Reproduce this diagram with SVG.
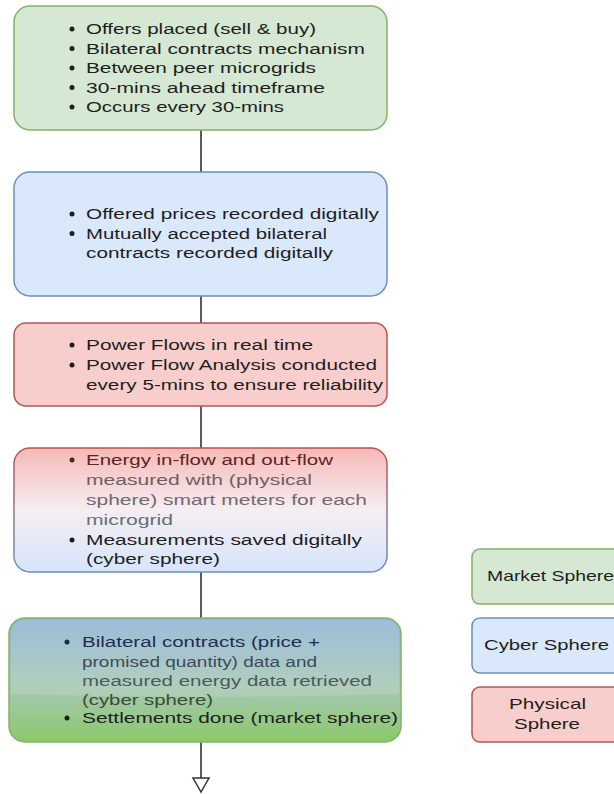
<svg xmlns="http://www.w3.org/2000/svg" width="614" height="794" viewBox="0 0 614 794">
<style>
text{font-family:"Liberation Sans",Arial,sans-serif;font-size:15.5px;fill:#1e1e1e}
.leg{font-size:15px}
.g{fill:#d5e8d4;stroke:#82b366;stroke-width:1.5}
.b{fill:#dae8fc;stroke:#6c8ebf;stroke-width:1.5}
.r{fill:#f8cecc;stroke:#b85450;stroke-width:1.5}
.conn{stroke:#333;stroke-width:1.6;fill:none}
.dot{fill:#1e1e1e}
</style>
<defs>
<linearGradient id="rb" x1="0" y1="0" x2="0" y2="1">
<stop offset="0" stop-color="#f6b9b6"/>
<stop offset="0.5" stop-color="#f5eef2"/>
<stop offset="1" stop-color="#d6e5fb"/>
</linearGradient>
<linearGradient id="rbs" x1="0" y1="0" x2="0" y2="1">
<stop offset="0" stop-color="#b85450"/>
<stop offset="1" stop-color="#6c8ebf"/>
</linearGradient>
<linearGradient id="bg" x1="0" y1="0" x2="0" y2="1">
<stop offset="0" stop-color="#8fb3d6"/>
<stop offset="0.55" stop-color="#a6c8b4"/>
<stop offset="1" stop-color="#8bc96a"/>
</linearGradient>
</defs>

<g id="connectors">
<line class="conn" x1="201" y1="130" x2="201" y2="172"/>
<line class="conn" x1="201" y1="296" x2="201" y2="323"/>
<line class="conn" x1="201" y1="406" x2="201" y2="448"/>
<line class="conn" x1="201" y1="572" x2="201" y2="618"/>
<path class="conn" d="M201,742 L201,778"/>
<path d="M193,778 L209,778 L201,792 Z" fill="#fff" stroke="#333" stroke-width="1.5"/>
</g>

<g id="market">
<rect class="g" x="14" y="6" width="373" height="124" rx="16"/>
<circle class="dot" cx="72" cy="29" r="2.5"/>
<circle class="dot" cx="72" cy="48.5" r="2.5"/>
<circle class="dot" cx="72" cy="68" r="2.5"/>
<circle class="dot" cx="72" cy="87.5" r="2.5"/>
<circle class="dot" cx="72" cy="107" r="2.5"/>
<text x="86" y="34" textLength="230" lengthAdjust="spacingAndGlyphs">Offers placed (sell &amp; buy)</text>
<text x="86" y="53.5" textLength="279" lengthAdjust="spacingAndGlyphs">Bilateral contracts mechanism</text>
<text x="86" y="73" textLength="230" lengthAdjust="spacingAndGlyphs">Between peer microgrids</text>
<text x="86" y="92.5" textLength="239" lengthAdjust="spacingAndGlyphs">30-mins ahead timeframe</text>
<text x="86" y="112" textLength="198" lengthAdjust="spacingAndGlyphs">Occurs every 30-mins</text>
</g>

<g id="cyber">
<rect class="b" x="14" y="172" width="373" height="124" rx="16"/>
<circle class="dot" cx="72" cy="214" r="2.5"/>
<circle class="dot" cx="72" cy="233.5" r="2.5"/>
<text x="86" y="219" textLength="293" lengthAdjust="spacingAndGlyphs">Offered prices recorded digitally</text>
<text x="86" y="238.5" textLength="241" lengthAdjust="spacingAndGlyphs">Mutually accepted bilateral</text>
<text x="86" y="258" textLength="247" lengthAdjust="spacingAndGlyphs">contracts recorded digitally</text>
</g>

<g id="physical">
<rect class="r" x="14" y="323" width="373" height="83" rx="12"/>
<circle class="dot" cx="72" cy="345" r="2.5"/>
<circle class="dot" cx="72" cy="365" r="2.5"/>
<text x="86" y="350" textLength="227" lengthAdjust="spacingAndGlyphs">Power Flows in real time</text>
<text x="86" y="370" textLength="291" lengthAdjust="spacingAndGlyphs">Power Flow Analysis conducted</text>
<text x="86" y="390" textLength="297" lengthAdjust="spacingAndGlyphs">every 5-mins to ensure reliability</text>
</g>

<g id="measurement">
<rect x="14" y="448" width="373" height="124" rx="16" fill="url(#rb)" stroke="url(#rbs)" stroke-width="1.5"/>
<circle cx="72" cy="460" r="2.5" fill="#5a2222"/>
<circle class="dot" cx="72" cy="540" r="2.5"/>
<text x="86" y="465" textLength="247" lengthAdjust="spacingAndGlyphs" style="fill:#5e2424">Energy in-flow and out-flow</text>
<text x="86" y="485" textLength="226" lengthAdjust="spacingAndGlyphs" style="fill:#6e6062">measured with (physical</text>
<text x="86" y="505" textLength="281" lengthAdjust="spacingAndGlyphs" style="fill:#6e6a70">sphere) smart meters for each</text>
<text x="86" y="525" textLength="87" lengthAdjust="spacingAndGlyphs" style="fill:#6a6e78">microgrid</text>
<text x="86" y="545" textLength="276" lengthAdjust="spacingAndGlyphs">Measurements saved digitally</text>
<text x="86" y="564" textLength="134" lengthAdjust="spacingAndGlyphs">(cyber sphere)</text>
</g>

<g id="settlement">
<rect x="9" y="618" width="392" height="124" rx="16" fill="url(#bg)" stroke="#82b366" stroke-width="1.5"/>
<path d="M11,634 Q11,620 25,620 L385,620 Q399,620 399,634 L399,694 Q205,700 11,694 Z" fill="#fff" opacity="0.12"/>
<circle cx="67" cy="642" r="2.5" fill="#1c2a50"/>
<circle class="dot" cx="67" cy="718" r="2.5"/>
<text x="82" y="647" textLength="238" lengthAdjust="spacingAndGlyphs" style="fill:#1f2d52">Bilateral contracts (price +</text>
<text x="82" y="667" textLength="235" lengthAdjust="spacingAndGlyphs" style="fill:#3e4a5c">promised quantity) data and</text>
<text x="82" y="686" textLength="290" lengthAdjust="spacingAndGlyphs" style="fill:#4c5a5c">measured energy data retrieved</text>
<text x="82" y="705" textLength="131" lengthAdjust="spacingAndGlyphs" style="fill:#3a4a38">(cyber sphere)</text>
<text x="82" y="723" textLength="316" lengthAdjust="spacingAndGlyphs">Settlements done (market sphere)</text>
</g>

<g id="legend-market">
<rect class="g" x="472" y="549" width="152" height="55" rx="8"/>
<text class="leg" x="487" y="581" textLength="127" lengthAdjust="spacingAndGlyphs">Market Sphere</text>
</g>
<g id="legend-cyber">
<rect class="b" x="472" y="618" width="152" height="55" rx="8"/>
<text class="leg" x="484" y="650" textLength="125" lengthAdjust="spacingAndGlyphs">Cyber Sphere</text>
</g>
<g id="legend-physical">
<rect class="r" x="472" y="687" width="152" height="55" rx="8"/>
<text class="leg" x="509" y="709" textLength="77" lengthAdjust="spacingAndGlyphs">Physical</text>
<text class="leg" x="514" y="729" textLength="66" lengthAdjust="spacingAndGlyphs">Sphere</text>
</g>
</svg>
